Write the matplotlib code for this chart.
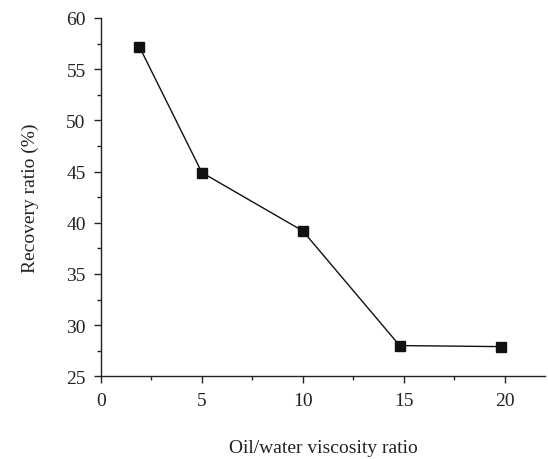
import matplotlib
matplotlib.use("Agg")
import matplotlib.pyplot as plt
from matplotlib.ticker import MultipleLocator

viscosity_ratio = [1.9, 5.0, 10.0, 14.8, 19.8]
recovery_ratio = [57.2, 44.9, 39.2, 28.0, 27.9]
x_ticks = [0, 5, 10, 15, 20]
y_ticks = [25, 30, 35, 40, 45, 50, 55, 60]

plt.rcParams['font.family'] = ['Liberation Serif', 'DejaVu Serif']

fig = plt.figure(figsize=(5.48, 4.60), dpi=100)
ax = fig.add_axes([0.1843, 0.1798, 0.8102, 0.7789])

ax.plot(viscosity_ratio, recovery_ratio, color='#111111', linewidth=1.0,
        marker='s', markersize=6.5, markerfacecolor='#111111', markeredgecolor='#111111')

ax.set_xlim(0, 22)
ax.set_ylim(25, 60)
ax.set_xticks(x_ticks)
ax.set_yticks(y_ticks)
ax.xaxis.set_minor_locator(MultipleLocator(2.5))
ax.yaxis.set_minor_locator(MultipleLocator(2.5))
ax.spines['top'].set_visible(False)
ax.spines['right'].set_visible(False)
for s in ['left', 'bottom']:
    ax.spines[s].set_linewidth(1.0)
    ax.spines[s].set_color('#222222')
ax.tick_params(which='major', direction='out', length=5, width=1.0, labelsize=14, colors='#222222', pad=6)
ax.tick_params(which='minor', direction='out', length=3, width=1.0, colors='#222222')

ax.set_xlabel('Oil/water viscosity ratio', fontsize=14, color='#222222')
ax.xaxis.set_label_coords(0.5, -0.2)
ax.xaxis.label.set_verticalalignment('center')
ax.set_ylabel('Recovery ratio (%)', fontsize=14, color='#222222')
ax.yaxis.set_label_coords(-0.16, 0.5)
ax.yaxis.label.set_verticalalignment('center')

fig.savefig('out.png', dpi=100)
